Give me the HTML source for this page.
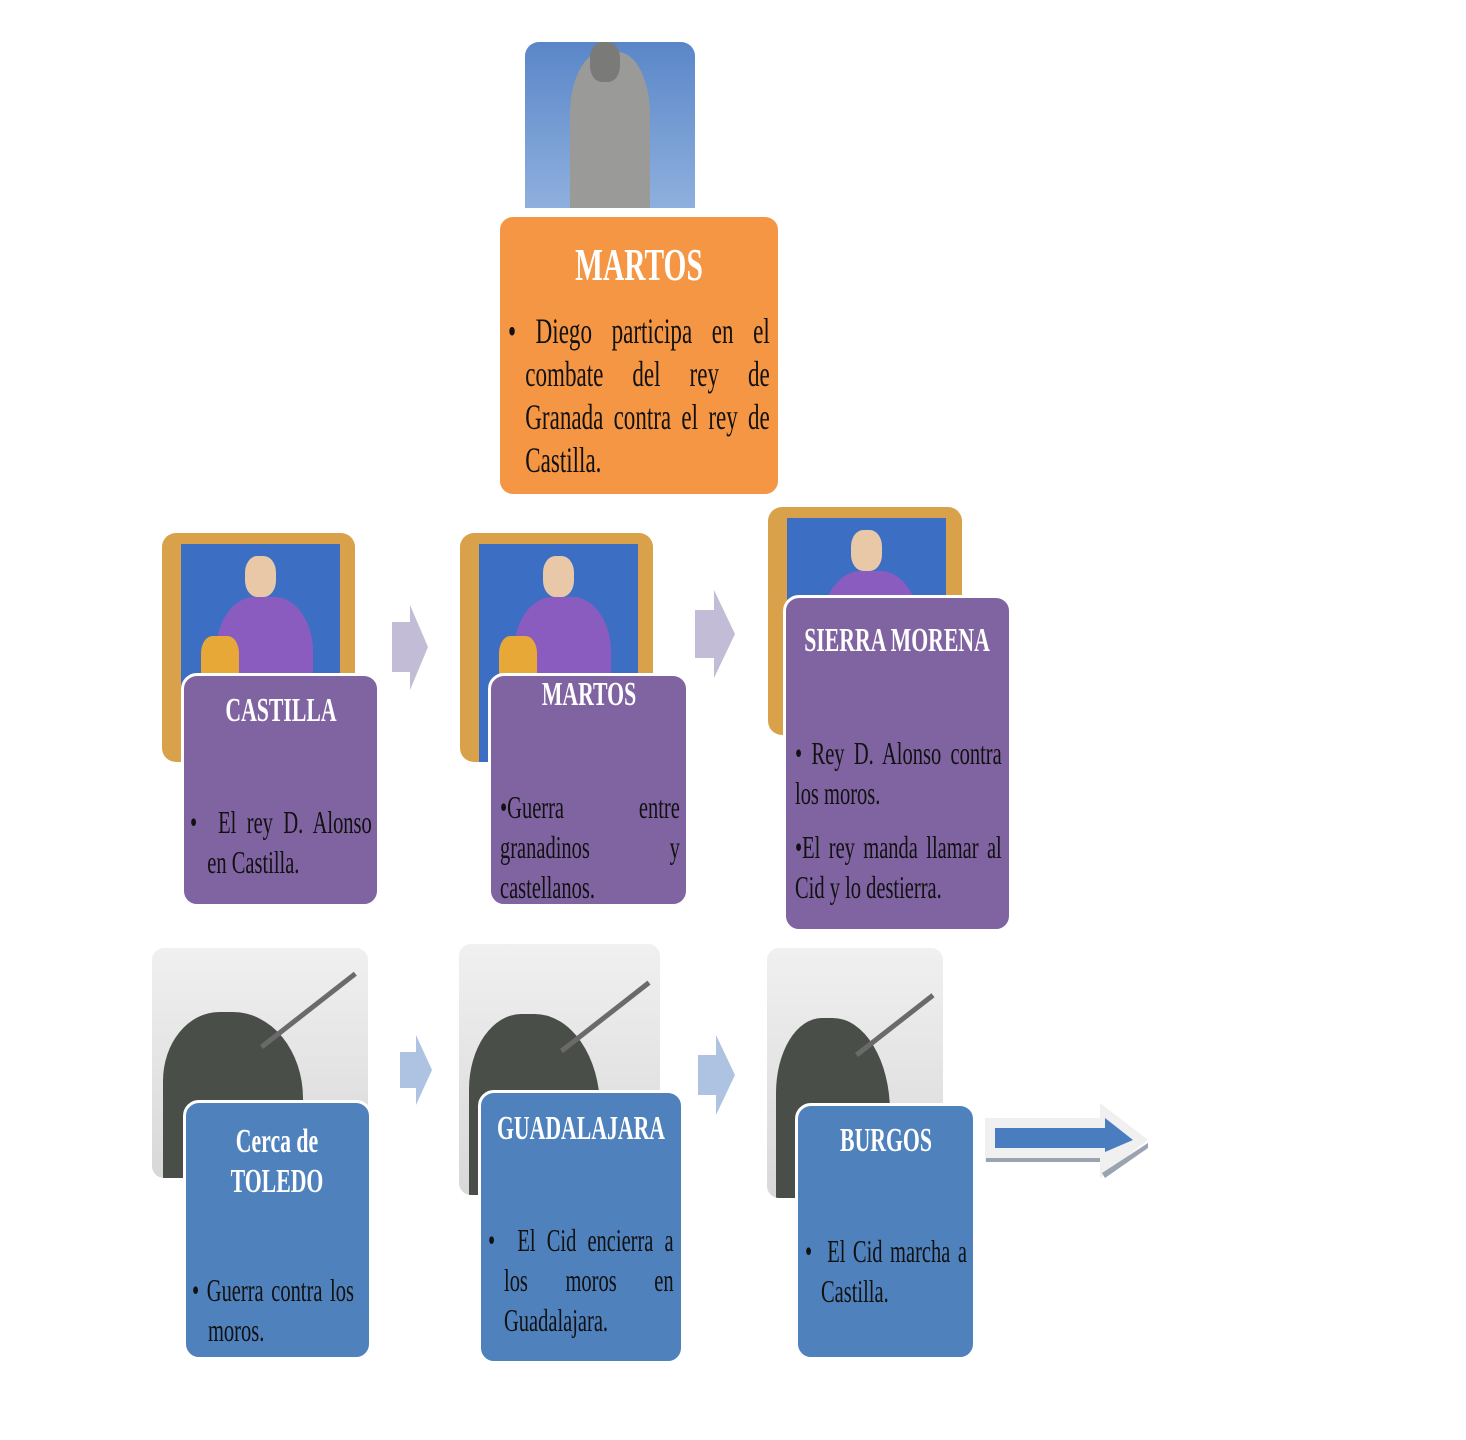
<!DOCTYPE html>
<html><head><meta charset="utf-8"><style>
body{margin:0;background:#fff;}
#c{position:relative;width:1466px;height:1440px;overflow:hidden;font-family:"Liberation Serif",serif;}
.a{position:absolute;}
.box{position:absolute;border-radius:16px;border:3px solid #fff;box-sizing:border-box;}
.t{position:absolute;transform-origin:0 0;transform:scaleX(0.64);color:#111;}
.t div{white-space:nowrap;}
.t .j{text-align:justify;text-align-last:justify;}
.h{position:absolute;width:400px;color:#fff;font-weight:bold;text-align:center;transform:scaleX(0.64);transform-origin:50% 0;white-space:nowrap;}
.king{position:absolute;border-radius:14px;overflow:hidden;background:#d9a24a;}
.king .in{position:absolute;left:10%;top:5%;right:8%;bottom:0;background:#3c6fc4;}
.king .fig{position:absolute;left:28%;top:28%;width:50%;height:60%;background:#8a5cc0;border-radius:40% 40% 0 0;}
.king .gold{position:absolute;left:20%;top:45%;width:20%;height:25%;background:#e8a838;border-radius:30%;}
.king .face{position:absolute;left:43%;top:10%;width:16%;height:18%;background:#e9c8a8;border-radius:40%;}
.horse{position:absolute;border-radius:12px;overflow:hidden;background:linear-gradient(#f0f0f0,#d8d8d8);}
.horse .b{position:absolute;left:5%;top:28%;width:65%;height:75%;background:#4a4e48;border-radius:40% 50% 0 0;}
.horse .s{position:absolute;left:50%;width:55%;height:5px;background:#6a6a6a;transform:rotate(-38deg);transform-origin:0 0;top:42%;}
</style></head><body><div id="c">

<div class="a" style="left:525px;top:42px;width:170px;height:166px;border-radius:14px 14px 0 0;overflow:hidden;background:linear-gradient(#5a86c8,#8fb0de);">
  <div class="a" style="left:45px;top:10px;width:80px;height:156px;background:#9a9a98;border-radius:40% 40% 0 0;"></div>
  <div class="a" style="left:65px;top:0;width:30px;height:40px;background:#7a7a78;border-radius:40%;"></div>
</div>

<div class="box" style="left:497px;top:214px;width:284px;height:283px;background:#f59644;"></div>
<div class="h" style="left:439px;top:238px;font-size:46px;">MARTOS</div>
<div class="t" style="left:508px;top:310px;width:409px;font-size:36px;line-height:43px;">
  <div class="j">• Diego participa en el</div>
  <div class="j" style="padding-left:27px">combate del rey de</div>
  <div class="j" style="padding-left:27px">Granada contra el rey de</div>
  <div style="padding-left:27px">Castilla.</div>
</div>

<div class="king" style="left:162px;top:533px;width:193px;height:229px;"><div class="in"></div><div class="fig"></div><div class="gold"></div><div class="face"></div></div>
<div class="king" style="left:460px;top:533px;width:193px;height:229px;"><div class="in"></div><div class="fig"></div><div class="gold"></div><div class="face"></div></div>
<div class="king" style="left:768px;top:507px;width:194px;height:228px;"><div class="in"></div><div class="fig"></div><div class="gold"></div><div class="face"></div></div>

<svg class="a" style="left:0;top:0" width="1466" height="1440">
  <polygon points="392,622 410,622 410,605 428,647 410,690 410,672 392,672" fill="#c3bcd6"/>
  <polygon points="695,610 714,610 714,590 735,634 714,678 714,658 695,658" fill="#c3bcd6"/>
  <polygon points="400,1052 416,1052 416,1035 432,1070 416,1105 416,1088 400,1088" fill="#aec3e2"/>
  <polygon points="698,1055 716,1055 716,1035 735,1075 716,1115 716,1095 698,1095" fill="#aec3e2"/>
  <polygon points="985,1118 1100,1118 1100,1103 1148,1140 1100,1178 1100,1162 985,1162" fill="#f0f0f0"/>
  <polygon points="986,1158 1100,1158 1100,1162 986,1162" fill="#9aa3b0"/>
  <polygon points="1102,1173 1148,1143 1148,1148 1105,1178" fill="#9aa3b0"/>
  <polygon points="995,1128 1105,1128 1105,1118 1133,1140 1105,1152 1105,1148 995,1148" fill="#4a7cc0"/>
</svg>

<div class="box" style="left:181px;top:673px;width:199px;height:234px;background:#8064a2;"></div>
<div class="h" style="left:81px;top:692px;font-size:34px;">CASTILLA</div>
<div class="t" style="left:190px;top:802px;width:284px;font-size:32px;line-height:40px;">
  <div class="j">• &nbsp;El rey D. Alonso</div>
  <div style="padding-left:27px">en Castilla.</div>
</div>

<div class="box" style="left:488px;top:673px;width:201px;height:234px;background:#8064a2;"></div>
<div class="h" style="left:389px;top:676px;font-size:34px;">MARTOS</div>
<div class="t" style="left:500px;top:787px;width:281px;font-size:32px;line-height:40px;">
  <div class="j">•Guerra entre</div>
  <div class="j">granadinos y</div>
  <div>castellanos.</div>
</div>

<div class="box" style="left:783px;top:595px;width:229px;height:337px;background:#8064a2;"></div>
<div class="h" style="left:697px;top:622px;font-size:34px;">SIERRA MORENA</div>
<div class="t" style="left:795px;top:733px;width:323px;font-size:32px;line-height:40px;">
  <div class="j">• Rey D. Alonso contra</div>
  <div>los moros.</div>
  <div style="height:14px"></div>
  <div class="j">•El rey manda llamar al</div>
  <div>Cid y lo destierra.</div>
</div>

<div class="horse" style="left:152px;top:948px;width:216px;height:230px;"><div class="b"></div><div class="s"></div></div>
<div class="horse" style="left:459px;top:944px;width:201px;height:251px;"><div class="b"></div><div class="s"></div></div>
<div class="horse" style="left:767px;top:948px;width:176px;height:250px;"><div class="b"></div><div class="s"></div></div>

<div class="box" style="left:183px;top:1100px;width:189px;height:260px;background:#4f81bd;"></div>
<div class="h" style="left:77px;top:1122px;font-size:34px;line-height:40px;">Cerca de<br>TOLEDO</div>
<div class="t" style="left:192px;top:1270px;width:253px;font-size:32px;line-height:40px;">
  <div class="j">• Guerra contra los</div>
  <div style="padding-left:25px">moros.</div>
</div>

<div class="box" style="left:478px;top:1090px;width:206px;height:274px;background:#4f81bd;"></div>
<div class="h" style="left:381px;top:1110px;font-size:34px;">GUADALAJARA</div>
<div class="t" style="left:488px;top:1220px;width:290px;font-size:32px;line-height:40px;">
  <div class="j">• &nbsp;El Cid encierra a</div>
  <div class="j" style="padding-left:25px">los moros en</div>
  <div style="padding-left:25px">Guadalajara.</div>
</div>

<div class="box" style="left:795px;top:1103px;width:181px;height:257px;background:#4f81bd;"></div>
<div class="h" style="left:686px;top:1122px;font-size:34px;">BURGOS</div>
<div class="t" style="left:805px;top:1231px;width:253px;font-size:32px;line-height:40px;">
  <div class="j">• &nbsp;El Cid marcha a</div>
  <div style="padding-left:25px">Castilla.</div>
</div>

</div></body></html>
